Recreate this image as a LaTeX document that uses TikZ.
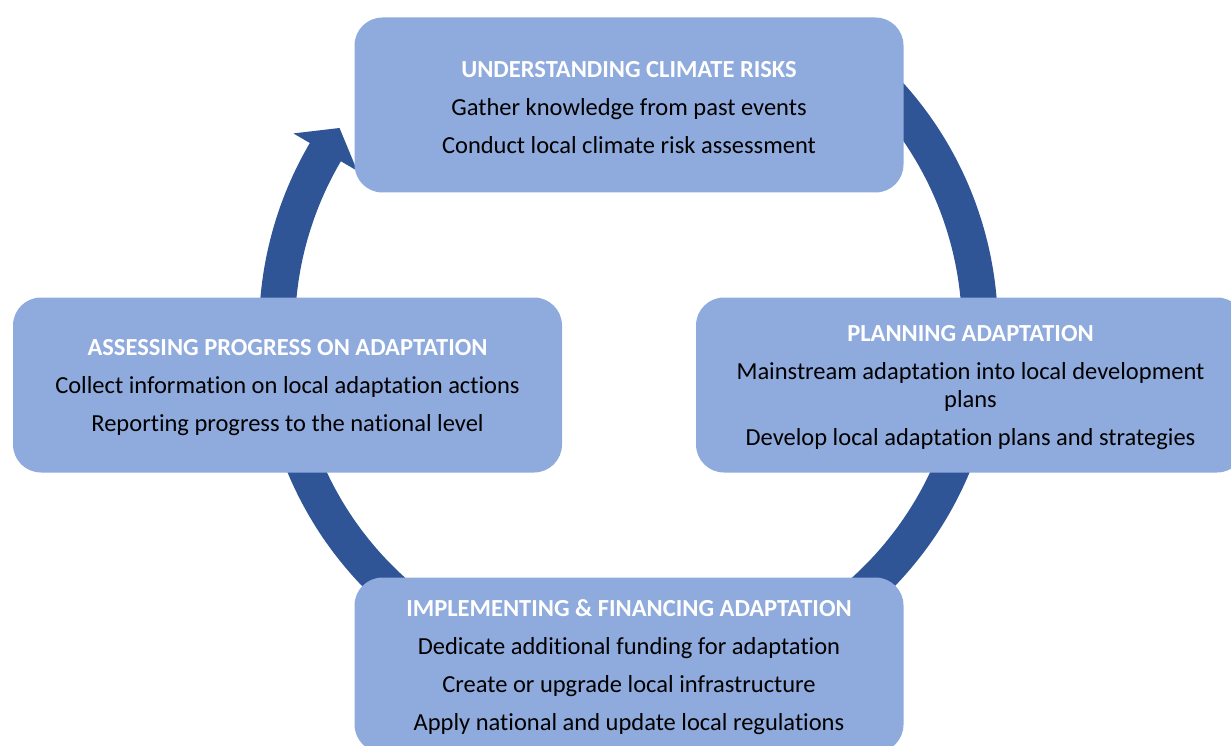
\documentclass[tikz,border=0pt]{standalone}
\usepackage{fontspec}
\setmainfont{Carlito}[Ligatures=NoCommon]
\usetikzlibrary{calc}
\definecolor{ringblue}{HTML}{2F5597}
\definecolor{boxblue}{HTML}{8FAADC}
\newcommand\stagetitle[1]{{\bfseries\color{white}#1}}
\begin{document}
\begin{tikzpicture}[x=1pt,y=1pt,
  stage/.style={fill=boxblue, rounded corners=28pt, minimum width=549pt, minimum height=175pt,
    inner sep=0pt},
  stagetext/.style={inner sep=0pt, align=center, text=black, yshift=-2.5pt,
    font=\fontsize{24.5}{28}\selectfont},
  ring/.style={fill=ringblue}]
\useasboundingbox (0,0) rectangle (1231,-746);
\clip (0,0) rectangle (1231,-746);
\coordinate (c) at (628.5,-330);
% cycle arrow
\path[ring] ($(c)+(45:369.5)$) arc[start angle=45, end angle=-210.4, radius=369.5pt]
  -- ($(c)+(-210.4:388.5)$)
  -- ($(c)+(-210.4:351.5)+(-300.4:28)$)
  -- ($(c)+(-210.4:314.5)$)
  -- ($(c)+(-210.4:333.5)$) arc[start angle=-210.4, end angle=45, radius=333.5pt]
  -- cycle;
% stages
\node[stage] (understand) at (629,-105) {};
\node[stagetext] (understand-text) at (understand.center)
  {\stagetitle{UNDERSTANDING CLIMATE RISKS}\\[10pt]
   Gather knowledge from past events\\[10pt]
   Conduct local climate risk assessment};
\node[stage] (planning) at (970.5,-385) {};
\node[stagetext] (planning-text) at (planning.center)
  {\stagetitle{PLANNING ADAPTATION}\\[10pt]
   Mainstream adaptation into local development\\
   plans\\[10pt]
   Develop local adaptation plans and strategies};
\node[stage] (implementing) at (629,-665) {};
\node[stagetext] (implementing-text) at (implementing.center)
  {\stagetitle{IMPLEMENTING \& FINANCING ADAPTATION}\\[10pt]
   Dedicate additional funding for adaptation\\[10pt]
   Create or upgrade local infrastructure\\[10pt]
   Apply national and update local regulations};
\node[stage] (assessing) at (287.5,-385) {};
\node[stagetext] (assessing-text) at (assessing.center)
  {\stagetitle{ASSESSING PROGRESS ON ADAPTATION}\\[10pt]
   Collect information on local adaptation actions\\[10pt]
   Reporting progress to the national level};
\end{tikzpicture}
\end{document}
